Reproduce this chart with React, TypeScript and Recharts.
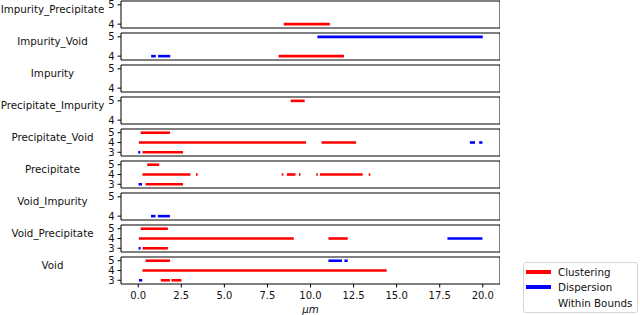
import { LineChart, Line, XAxis, YAxis, ReferenceArea } from "recharts";

type Seg = { kind: "Clustering" | "Dispersion"; level: number; from: number; to: number };

const X_TICKS = [0, 2.5, 5, 7.5, 10, 12.5, 15, 17.5, 20];
const X_MIN = -1;
const X_MAX = 21;

const IMPURITY_PRECIPITATE: Seg[] = [
  { kind: "Clustering", level: 4, from: 8.45, to: 11.12 },
];
const IMPURITY_VOID: Seg[] = [
  { kind: "Dispersion", level: 5, from: 10.4, to: 20.0 },
  { kind: "Clustering", level: 4, from: 8.15, to: 11.94 },
  { kind: "Dispersion", level: 4, from: 0.75, to: 1.02 },
  { kind: "Dispersion", level: 4, from: 1.15, to: 1.86 },
];
const IMPURITY: Seg[] = [];
const PRECIPITATE_IMPURITY: Seg[] = [
  { kind: "Clustering", level: 5, from: 8.85, to: 9.66 },
];
const PRECIPITATE_VOID: Seg[] = [
  { kind: "Clustering", level: 5, from: 0.14, to: 1.84 },
  { kind: "Clustering", level: 4, from: 0.04, to: 9.74 },
  { kind: "Clustering", level: 4, from: 10.64, to: 12.65 },
  { kind: "Dispersion", level: 4, from: 19.25, to: 19.55 },
  { kind: "Dispersion", level: 4, from: 19.79, to: 19.98 },
  { kind: "Dispersion", level: 3, from: 0.0, to: 0.12 },
  { kind: "Clustering", level: 3, from: 0.25, to: 2.6 },
];
const PRECIPITATE: Seg[] = [
  { kind: "Clustering", level: 5, from: 0.52, to: 1.22 },
  { kind: "Clustering", level: 4, from: 0.25, to: 3.03 },
  { kind: "Clustering", level: 4, from: 3.35, to: 3.45 },
  { kind: "Clustering", level: 4, from: 8.33, to: 8.42 },
  { kind: "Clustering", level: 4, from: 8.63, to: 9.13 },
  { kind: "Clustering", level: 4, from: 9.33, to: 9.42 },
  { kind: "Clustering", level: 4, from: 10.33, to: 10.42 },
  { kind: "Clustering", level: 4, from: 10.55, to: 13.03 },
  { kind: "Clustering", level: 4, from: 13.38, to: 13.47 },
  { kind: "Dispersion", level: 3, from: 0.02, to: 0.22 },
  { kind: "Clustering", level: 3, from: 0.43, to: 2.6 },
];
const VOID_IMPURITY: Seg[] = [
  { kind: "Dispersion", level: 4, from: 0.74, to: 1.0 },
  { kind: "Dispersion", level: 4, from: 1.14, to: 1.84 },
];
const VOID_PRECIPITATE: Seg[] = [
  { kind: "Clustering", level: 5, from: 0.14, to: 1.72 },
  { kind: "Clustering", level: 4, from: 0.04, to: 9.03 },
  { kind: "Clustering", level: 4, from: 11.04, to: 12.16 },
  { kind: "Dispersion", level: 4, from: 17.95, to: 19.98 },
  { kind: "Dispersion", level: 3, from: 0.02, to: 0.14 },
  { kind: "Clustering", level: 3, from: 0.25, to: 1.72 },
];
const VOID: Seg[] = [
  { kind: "Clustering", level: 5, from: 0.43, to: 1.84 },
  { kind: "Dispersion", level: 5, from: 11.04, to: 11.83 },
  { kind: "Dispersion", level: 5, from: 11.97, to: 12.16 },
  { kind: "Clustering", level: 4, from: 0.25, to: 14.42 },
  { kind: "Dispersion", level: 3, from: 0.04, to: 0.23 },
  { kind: "Clustering", level: 3, from: 1.31, to: 1.84 },
  { kind: "Clustering", level: 3, from: 1.93, to: 2.51 },
];

const TWO_LEVELS = [4, 5];
const THREE_LEVELS = [3, 4, 5];

const PANELS = [
  { name: "Impurity_Precipitate", levels: TWO_LEVELS, segs: IMPURITY_PRECIPITATE },
  { name: "Impurity_Void", levels: TWO_LEVELS, segs: IMPURITY_VOID },
  { name: "Impurity", levels: TWO_LEVELS, segs: IMPURITY },
  { name: "Precipitate_Impurity", levels: TWO_LEVELS, segs: PRECIPITATE_IMPURITY },
  { name: "Precipitate_Void", levels: THREE_LEVELS, segs: PRECIPITATE_VOID },
  { name: "Precipitate", levels: THREE_LEVELS, segs: PRECIPITATE },
  { name: "Void_Impurity", levels: TWO_LEVELS, segs: VOID_IMPURITY },
  { name: "Void_Precipitate", levels: THREE_LEVELS, segs: VOID_PRECIPITATE },
  { name: "Void", levels: THREE_LEVELS, segs: VOID },
];

const LEGEND = [
  { label: "Clustering", color: "#ff0000" },
  { label: "Dispersion", color: "#0000ff" },
  { label: "Within Bounds", color: "#ffffff" },
];

const COLORS: Record<string, string> = { Clustering: "#ff0000", Dispersion: "#0000ff" };
const FONT = "'DejaVu Sans', sans-serif";
const FS = 10.3;
const TICK_FS = 10;
const INK = "#111";

const PITCH = 32;
const PLOT_H = 27;
const PAD_T = 4;

function Panel({ panel, index, last }: { panel: (typeof PANELS)[number]; index: number; last: boolean }) {
  const [lo, hi] = panel.levels.length === 3 ? [2.62, 5.38] : [3.8, 5.2];
  const axisH = last ? 32 : 5;
  return (
    <div style={{ position: "absolute", left: 100, top: index * PITCH - PAD_T + 1 }}>
      <LineChart width={400} height={PAD_T + PLOT_H + axisH} margin={{ top: PAD_T, right: 0, bottom: 0, left: 0 }}>
        <XAxis
          type="number"
          dataKey="x"
          domain={[X_MIN, X_MAX]}
          ticks={X_TICKS}
          interval={0}
          allowDataOverflow
          height={axisH}
          tickSize={3.5}
          tickMargin={4}
          axisLine={false}
          tickLine={{ stroke: "#000" }}
          tick={last ? { fontSize: TICK_FS, fill: INK, fontFamily: FONT } : false}
          tickFormatter={(v: number) => v.toFixed(1)}
          label={
            last
              ? { value: "μm", position: "insideBottom", offset: 3, fontSize: FS, fill: INK, fontFamily: FONT, fontStyle: "italic" }
              : undefined
          }
        />
        <YAxis
          type="number"
          domain={[lo, hi]}
          ticks={panel.levels}
          interval={0}
          allowDataOverflow
          width={21}
          tickSize={3.5}
          tickMargin={3}
          axisLine={false}
          tickLine={{ stroke: "#000" }}
          tick={{ fontSize: TICK_FS, fill: INK, fontFamily: FONT }}
        />
        <ReferenceArea x1={X_MIN} x2={X_MAX} y1={lo} y2={hi} fill="none" stroke="#000" strokeWidth={1} ifOverflow="visible" />
        {panel.segs.map((s, i) => (
          <Line
            key={i}
            data={[{ x: s.from, y: s.level }, { x: s.to, y: s.level }]}
            dataKey="y"
            type="linear"
            stroke={COLORS[s.kind]}
            strokeWidth={2.6}
            dot={false}
            activeDot={false}
            isAnimationActive={false}
          />
        ))}
      </LineChart>
    </div>
  );
}

export default function App() {
  return (
    <div style={{ position: "absolute", left: 0, top: 0, width: 640, height: 315, background: "#fff", overflow: "hidden", fontFamily: FONT }}>
      {PANELS.map((p, i) => (
        <div
          key={p.name}
          style={{ position: "absolute", left: 0, width: 105, top: i * PITCH + 3, lineHeight: "12px", fontSize: FS, color: INK, textAlign: "center", whiteSpace: "nowrap" }}
        >
          {p.name}
        </div>
      ))}
      {PANELS.map((p, i) => (
        <Panel key={p.name} panel={p} index={i} last={i === PANELS.length - 1} />
      ))}
      <div
        style={{ position: "absolute", left: 523, top: 262, width: 113, height: 49, border: "1px solid #d6d6d6", borderRadius: 3, fontSize: FS, color: INK }}
      >
        {LEGEND.map((l, i) => (
          <div key={l.label} style={{ position: "absolute", left: 2, top: 2 + i * 15.5, height: 13, display: "flex", alignItems: "center" }}>
            <span style={{ display: "inline-block", width: 25, height: 4, background: l.color, marginRight: 7 }} />
            <span>{l.label}</span>
          </div>
        ))}
      </div>
    </div>
  );
}
